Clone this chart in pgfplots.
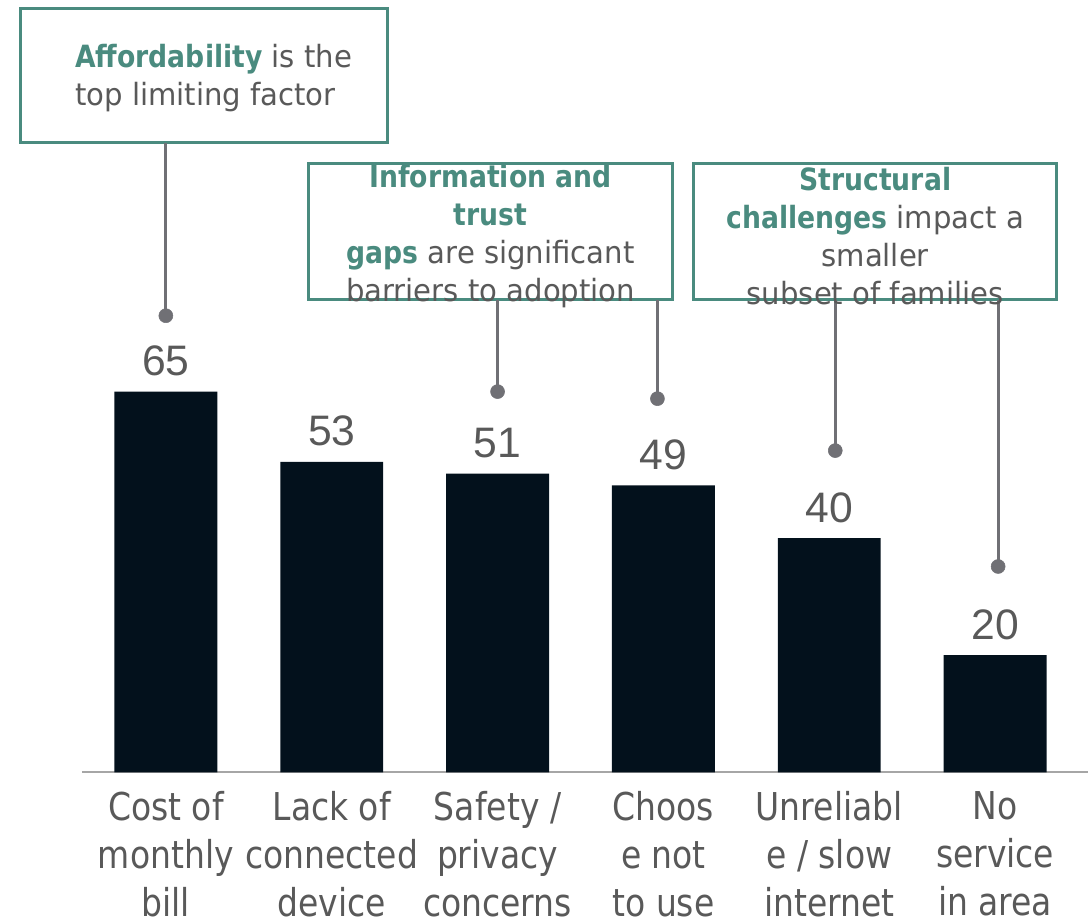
\documentclass[border=0pt]{standalone}
\usepackage{fontspec}
\setmainfont{DejaVu Sans}
\newfontfamily\numfont{Liberation Sans}
\newfontfamily\catfont[FakeStretch=0.86]{DejaVu Sans}
\newfontfamily\boxfont[FakeStretch=0.95,BoldFeatures={FakeStretch=0.87}]{DejaVu Sans}
\usepackage{pgfplots}
\pgfplotsset{compat=1.18}
\definecolor{barc}{HTML}{03111C}
\definecolor{tealc}{HTML}{4A8B7F}
\definecolor{txt}{HTML}{595959}
\definecolor{conn}{HTML}{707075}
\definecolor{axc}{HTML}{A6A6A6}
\begin{document}
\begin{tikzpicture}
\begin{axis}[
  width=755.25pt, height=579.75pt, scale only axis,
  xmin=-0.506, xmax=5.56, ymin=0, ymax=131.87,
  axis x line=bottom, axis y line=none,
  x axis line style={axc, line width=1.5pt, -},
  xtick={0,...,5},
  xticklabels={{Cost of\\monthly\\bill},{Lack of\\connected\\device},{Safety /\\privacy\\concerns},{Choos\\e not\\to use},{Unreliabl\\e / slow\\internet},{No\\service\\in area}},
  major tick length=0pt,
  xticklabel style={font=\catfont\fontsize{28.8}{36}\selectfont, text=txt, align=center, anchor=north, inner sep=0pt, yshift=-14pt},
  ytick=\empty,
  clip=false,
  /pgf/number format/assume math mode=true,
]
\addplot[ybar, bar width=77.25pt, fill=barc, draw=none,
  nodes near coords,
  nodes near coords style={font=\numfont\fontsize{32}{38}\selectfont, text=txt, anchor=base, inner sep=0pt, yshift=12pt}]
  coordinates {(0,65) (1,53) (2,51) (3,49) (4,40) (5,20)};
% boxes
\draw[tealc, line width=2.25pt, fill=white] (axis cs:-0.8735,130.5) rectangle (axis cs:1.3373,107.47);
\draw[tealc, line width=2.25pt, fill=white] (axis cs:0.8614,103.89) rectangle (axis cs:3.0542,80.69);
\draw[tealc, line width=2.25pt, fill=white] (axis cs:3.1807,103.89) rectangle (axis cs:5.3675,80.69);
% connectors
\addplot[conn, line width=2.25pt] coordinates {(0,107.47) (0,77.96)};
\addplot[conn, line width=2.25pt] coordinates {(2,80.69) (2,65.0)};
\addplot[conn, line width=2.25pt] coordinates {(2.9639,80.69) (2.9639,63.80)};
\addplot[conn, line width=2.25pt] coordinates {(4.0361,80.69) (4.0361,54.93)};
\addplot[conn, line width=2.25pt] coordinates {(5.0181,80.69) (5.0181,35.14)};
\addplot[only marks, mark=*, mark size=5.25pt, conn, mark options={draw=conn, fill=conn}]
  coordinates {(0,77.96) (2,65.0) (2.9639,63.80) (4.0361,54.93) (5.0181,35.14)};
% texts
\node[align=left, anchor=west, font=\boxfont\fontsize{23}{28.5}\selectfont, text=txt, inner sep=0pt]
  at (axis cs:-0.5482,118.5) {\textcolor{tealc}{\bfseries Affordability} is the\\top limiting factor};
\node[align=center, anchor=center, font=\boxfont\fontsize{23}{28.5}\selectfont, text=txt, inner sep=0pt]
  at (axis cs:1.9578,91.6) {\textcolor{tealc}{\bfseries Information and}\\\textcolor{tealc}{\bfseries trust}\\\textcolor{tealc}{\bfseries gaps} are significant\\barriers to adoption};
\node[align=center, anchor=center, font=\boxfont\fontsize{23}{28.5}\selectfont, text=txt, inner sep=0pt]
  at (axis cs:4.2771,91.6) {\textcolor{tealc}{\bfseries Structural}\\\textcolor{tealc}{\bfseries challenges} impact a\\smaller\\subset of families};
\path (axis cs:-1,-25.77) rectangle (axis cs:5.56,131.87);
\end{axis}
\end{tikzpicture}
\end{document}
